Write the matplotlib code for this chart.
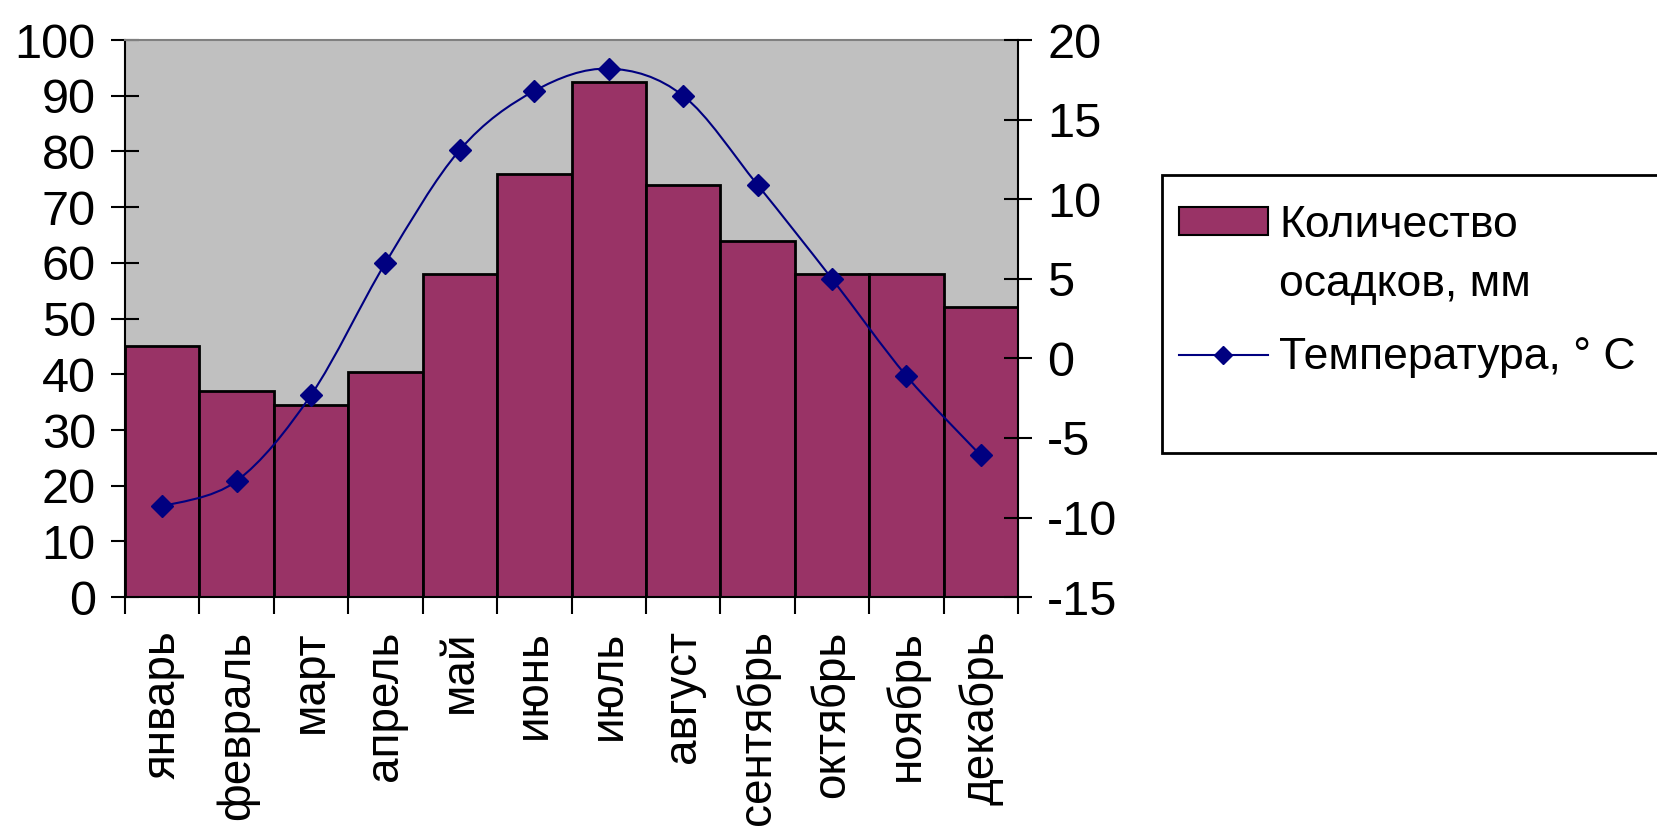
import numpy as np
import matplotlib
matplotlib.use("Agg")
import matplotlib.pyplot as plt
from matplotlib.patches import Patch, Rectangle
from matplotlib.lines import Line2D
from matplotlib.path import Path
from matplotlib.patches import PathPatch

plt.rcParams['font.family'] = ['Liberation Sans', 'DejaVu Sans']
plt.rcParams['axes.unicode_minus'] = False

# data
months = ['январь', 'февраль', 'март', 'апрель', 'май', 'июнь',
          'июль', 'август', 'сентябрь', 'октябрь', 'ноябрь', 'декабрь']
precip = [45, 37, 34.5, 40.5, 58, 76, 92.5, 74, 64, 58, 58, 52]
temps = [-9.3, -7.7, -2.3, 6.0, 13.1, 16.8, 18.2, 16.5, 10.9, 5.0, -1.1, -6.1]

bar_color = '#993366'
line_color = '#000080'
fs_num = 35
fs_txt = 32

fig = plt.figure(figsize=(16.58, 8.34), dpi=100)
ax = fig.add_axes([0.0754, 0.284, 0.5386, 0.668])
ax.set_facecolor('#c0c0c0')

x = np.arange(len(months))
ax.bar(x, precip, width=1.0, color=bar_color, edgecolor='black', linewidth=2, zorder=2)
ax.set_xlim(-0.5, len(months) - 0.5)
ax.set_ylim(0, 100)
ax.set_yticks(range(0, 101, 10))

# ticks between categories, labels at centres
ax.set_xticks(np.arange(-0.5, len(months), 1.0))
ax.set_xticklabels([])
ax.set_xticks(x, labels=months, minor=True)
ax.tick_params(axis='x', which='major', direction='out', length=12, width=1.5, color='black')
ax.tick_params(axis='x', which='minor', length=0, pad=24, labelsize=33, labelrotation=90)
ax.tick_params(axis='y', direction='inout', length=20, width=1.5, pad=11, labelsize=fs_num)

for s in ['left', 'bottom']:
    ax.spines[s].set_linewidth(1.5)
ax.spines['right'].set_visible(False)
ax.spines['top'].set_color('#808080')
ax.spines['top'].set_linewidth(1.5)

# temperature on the right axis
ax2 = ax.twinx()
ax2.set_ylim(-15, 20)
ax2.set_yticks(range(-15, 21, 5))
ax2.tick_params(axis='y', direction='inout', length=20, width=1.5, pad=11, labelsize=fs_num)
for s in ['left', 'bottom', 'top']:
    ax2.spines[s].set_visible(False)
ax2.spines['right'].set_linewidth(1.5)

# smoothed line like the spreadsheet one (bezier through the points)
pts = np.column_stack([x, temps]).astype(float)
verts = [pts[0]]
codes = [Path.MOVETO]
for i in range(len(pts) - 1):
    p0 = pts[i - 1] if i > 0 else pts[i]
    p1 = pts[i]
    p2 = pts[i + 1]
    p3 = pts[i + 2] if i + 2 < len(pts) else pts[i + 1]
    verts += [p1 + (p2 - p0) / 6, p2 - (p3 - p1) / 6, p2]
    codes += [Path.CURVE4] * 3
ax2.add_patch(PathPatch(Path(verts, codes), fill=False, edgecolor=line_color, linewidth=1.5, zorder=3))
ax2.plot(x, temps, linestyle='none', marker='D', markersize=11,
         color=line_color, zorder=4)

# legend box (right side runs off the picture)
fig.add_artist(Rectangle((1162 / 1658, 1 - 453 / 834), 0.4, 278 / 834,
                         transform=fig.transFigure, facecolor='white',
                         edgecolor='black', linewidth=2, clip_on=False))
leg_kw = dict(frameon=False, borderpad=0, borderaxespad=0,
              handlelength=2.0, handleheight=0.6, handletextpad=0.25,
              fontsize=fs_txt)
leg1 = fig.legend([Patch(facecolor=bar_color, edgecolor='black', linewidth=1.5),
                   Line2D([], [], linestyle='none')],
                  ['Количество', 'осадков, мм'], loc='upper left',
                  bbox_to_anchor=(1179 / 1658, 1 - 205 / 834),
                  labelspacing=0.4, **leg_kw)
leg2 = fig.legend([Line2D([], [], color=line_color, linewidth=1.5, marker='D', markersize=9)],
                  ['Температура, ° C'], loc='center left',
                  bbox_to_anchor=(1179 / 1658, 1 - 358 / 834), **leg_kw)

fig.savefig('out.png', dpi=100)
